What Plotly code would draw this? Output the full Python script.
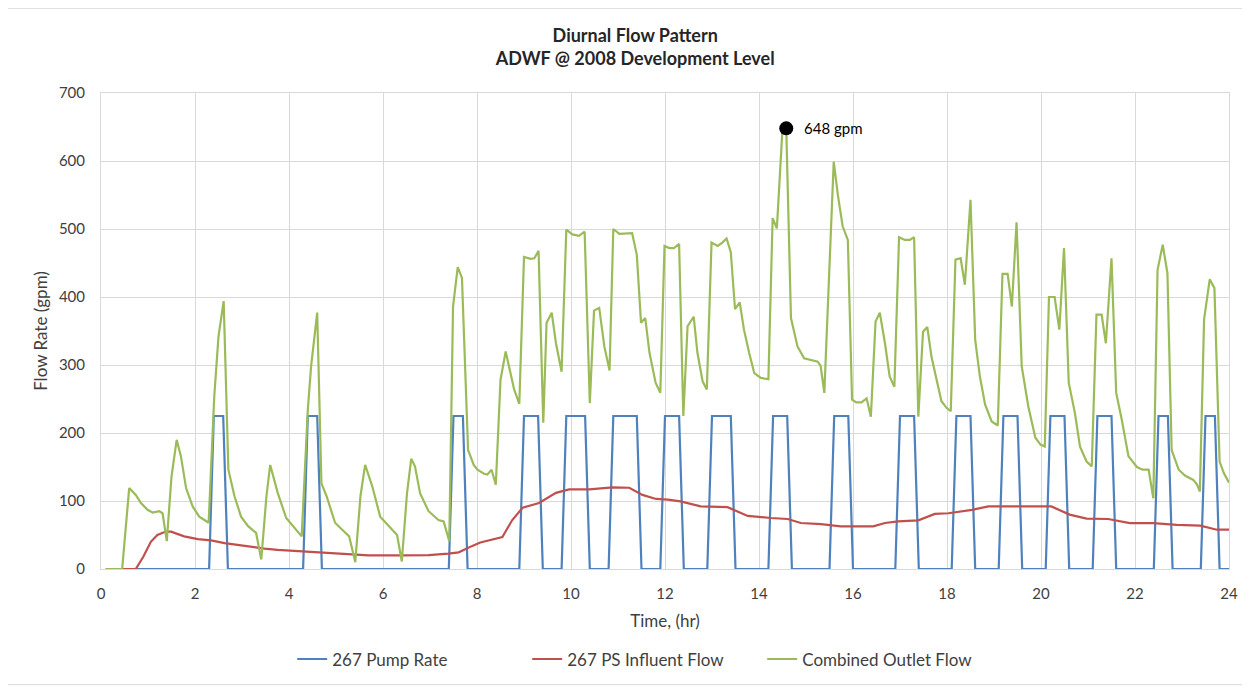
import plotly.graph_objects as go

# hours / gpm breakpoints
pump_time = [0.1, 2.3, 2.4, 2.6, 2.7, 4.3, 4.4, 4.6, 4.7, 7.4, 7.5, 7.7, 7.8,
             8.9, 9.0, 9.3, 9.4, 9.8, 9.9, 10.3, 10.4, 10.8, 10.9, 11.4, 11.5,
             11.9, 12.0, 12.3, 12.4, 12.9, 13.0, 13.4, 13.5, 14.2, 14.3, 14.6, 14.7,
             15.5, 15.6, 15.9, 16.0, 16.9, 17.0, 17.3, 17.4, 18.1, 18.2, 18.5, 18.6,
             19.1, 19.2, 19.5, 19.6, 20.1, 20.2, 20.5, 20.6, 21.1, 21.2, 21.5, 21.6,
             22.4, 22.5, 22.7, 22.8, 23.4, 23.5, 23.7, 23.8, 24.0]
pump_rate = [0, 0, 225, 225, 0, 0, 225, 225, 0, 0, 225, 225, 0,
             0, 225, 225, 0, 0, 225, 225, 0, 0, 225, 225, 0,
             0, 225, 225, 0, 0, 225, 225, 0, 0, 225, 225, 0,
             0, 225, 225, 0, 0, 225, 225, 0, 0, 225, 225, 0,
             0, 225, 225, 0, 0, 225, 225, 0, 0, 225, 225, 0,
             0, 225, 225, 0, 0, 225, 225, 0, 0]

influent_time = [0.45, 0.74, 0.9, 1.06, 1.2, 1.38, 1.49, 1.77, 2.06, 2.34, 2.63, 2.91,
                 3.19, 3.48, 3.76, 4.01, 4.62, 5.05, 5.69, 6.4, 6.97, 7.39, 7.61, 7.9,
                 8.07, 8.54, 8.75, 8.97, 9.32, 9.68, 9.96, 10.39, 10.88, 11.24, 11.52,
                 11.81, 12.06, 12.33, 12.76, 13.33, 13.76, 14.25, 14.61, 14.89, 15.32,
                 15.74, 16.43, 16.68, 16.96, 17.39, 17.74, 18.03, 18.53, 18.88, 20.22,
                 20.61, 20.97, 21.43, 21.89, 22.39, 22.89, 23.39, 23.74, 24.0]
influent_flow = [0, 0, 18, 40, 50, 55, 55, 48, 44, 42, 38, 35,
                 32, 30, 28, 27, 24.5, 22, 20, 20, 20.5, 22.5, 24.5, 34,
                 39, 47, 72, 90, 97, 112, 117, 117, 120, 119.5, 109,
                 103, 102, 99.5, 92, 91, 78, 75, 73.5, 67.6, 66,
                 62.6, 62.6, 67.6, 70, 71.5, 81, 82, 87, 92, 92,
                 80, 74, 73.5, 67.6, 67.6, 65, 63.7, 57.8, 57.8]

outlet_time = [0.1, 0.45, 0.6, 0.74, 0.85, 0.99, 1.1, 1.24, 1.31, 1.4, 1.5, 1.61, 1.7,
               1.81, 1.95, 2.09, 2.2, 2.29, 2.41, 2.5, 2.61, 2.71, 2.84, 2.98, 3.13,
               3.3, 3.41, 3.52, 3.6, 3.76, 3.94, 4.06, 4.27, 4.4, 4.47, 4.6, 4.69,
               4.8, 4.98, 5.16, 5.28, 5.41, 5.52, 5.62, 5.77, 5.94, 6.12, 6.3, 6.4,
               6.51, 6.6, 6.68, 6.79, 6.97, 7.18, 7.29, 7.41, 7.49, 7.59, 7.68, 7.81,
               7.93, 8.01, 8.15, 8.22, 8.31, 8.4, 8.5, 8.61, 8.69, 8.79, 8.9, 9.0,
               9.14, 9.22, 9.31, 9.41, 9.48, 9.59, 9.68, 9.8, 9.9, 10.03, 10.17, 10.29,
               10.4, 10.49, 10.6, 10.71, 10.82, 10.9, 11.03, 11.17, 11.3, 11.4, 11.49,
               11.58, 11.67, 11.8, 11.9, 11.99, 12.09, 12.19, 12.3, 12.39, 12.48, 12.61,
               12.69, 12.8, 12.89, 12.99, 13.12, 13.22, 13.31, 13.4, 13.49, 13.59, 13.68,
               13.79, 13.9, 14.04, 14.2, 14.29, 14.38, 14.5, 14.58, 14.68, 14.82, 14.96,
               15.11, 15.25, 15.31, 15.39, 15.59, 15.68, 15.78, 15.89, 15.98, 16.07,
               16.18, 16.29, 16.38, 16.48, 16.57, 16.68, 16.78, 16.88, 16.98, 17.1,
               17.21, 17.3, 17.39, 17.49, 17.58, 17.67, 17.78, 17.88, 17.99, 18.08,
               18.18, 18.29, 18.38, 18.5, 18.6, 18.7, 18.81, 18.95, 19.08, 19.18, 19.29,
               19.38, 19.48, 19.59, 19.73, 19.88, 19.99, 20.08, 20.17, 20.29, 20.39,
               20.49, 20.59, 20.72, 20.83, 20.97, 21.08, 21.18, 21.29, 21.38, 21.5,
               21.6, 21.72, 21.86, 22.04, 22.16, 22.29, 22.39, 22.48, 22.59, 22.69,
               22.78, 22.93, 23.07, 23.24, 23.32, 23.38, 23.47, 23.59, 23.69, 23.8,
               23.89, 24.0]
outlet_flow = [0, 0, 119, 109, 97, 87, 83, 85, 82, 41, 136, 190, 166,
               119, 92, 77, 72, 68, 254, 342, 394, 146, 107, 77, 63,
               53, 14, 107, 153, 112, 75, 65, 48, 234, 298, 377, 126,
               107, 68, 56, 48, 10, 107, 153, 122, 77, 63, 50, 11,
               111, 162, 151, 111, 85, 72, 70, 41, 386, 444, 428, 175,
               153, 146, 140, 139, 146, 124, 278, 320, 293, 264, 243, 459,
               456, 457, 468, 215, 362, 377, 332, 290, 499, 492, 490, 496,
               244, 380, 384, 327, 292, 500, 493, 493, 494, 462, 362,
               369, 318, 274, 259, 475, 472, 472, 478, 225, 357, 371,
               318, 276, 264, 480, 475, 480, 486, 466, 382, 392, 352,
               318, 288, 281, 279, 516, 501, 648, 648, 369, 327, 310,
               307, 305, 299, 259, 599, 549, 504, 484, 249, 245,
               245, 251, 224, 364, 377, 332, 283, 268, 488, 484,
               484, 488, 224, 349, 356, 312, 278, 247, 237, 232,
               455, 457, 418, 543, 337, 283, 242, 217, 211, 434, 434,
               386, 510, 298, 239, 193, 183, 180, 400, 400, 352,
               472, 274, 230, 180, 158, 151, 374, 374, 332, 457,
               259, 219, 166, 150, 146, 146, 104, 440, 477, 435,
               175, 146, 137, 131, 124, 114, 367, 426, 413, 158,
               141, 127]

peak_time = [14.58]
peak_flow = [648]
peak_label = ["648 gpm"]

font_name = "Lato"
text_grey = "#404040"

fig = go.Figure()

fig.add_trace(go.Scatter(x=pump_time, y=pump_rate, mode="lines", name="267 Pump Rate",
                         line=dict(color="#4f81bd", width=2.2)))
fig.add_trace(go.Scatter(x=influent_time, y=influent_flow, mode="lines", name="267 PS Influent Flow",
                         line=dict(color="#c0504d", width=2.2)))
fig.add_trace(go.Scatter(x=outlet_time, y=outlet_flow, mode="lines", name="Combined Outlet Flow",
                         line=dict(color="#9bbb59", width=2.2)))

# peak marker
fig.add_trace(go.Scatter(x=peak_time, y=peak_flow, mode="markers", showlegend=False,
                         marker=dict(color="black", size=14)))
# peak label, nudged right of the dot
fig.add_annotation(x=peak_time[0], y=peak_flow[0], text=peak_label[0], showarrow=False,
                   xanchor="left", xshift=16,
                   font=dict(family=font_name, size=15, color="black"))

# page body adds an 8px margin, so the figure is 8px smaller than the window
fig.update_layout(
    width=1242,
    height=681,
    paper_bgcolor="white",
    plot_bgcolor="white",
    font=dict(family=font_name, size=14, color=text_grey),
    title=dict(
        text="<b>Diurnal Flow Pattern<br>ADWF @ 2008 Development Level</b>",
        x=0.505, xanchor="center", y=0.95, yanchor="top",
        font=dict(family=font_name, size=18, color="#262626"),
    ),
    margin=dict(l=93, r=15, t=85, b=112),
    legend=dict(orientation="h", x=0.482, xanchor="center", y=-0.19, yanchor="middle",
                font=dict(family=font_name, size=17, color=text_grey),
                itemwidth=30, entrywidth=190, entrywidthmode="pixels"),
    showlegend=True,
)

fig.update_xaxes(
    range=[0, 24], dtick=2, tick0=0,
    showgrid=True, gridcolor="#d9d9d9", gridwidth=1,
    zeroline=False, showline=True, linecolor="#d9d9d9", mirror=True,
    ticks="", ticklabelstandoff=11,
    tickfont=dict(size=15, color=text_grey),
    title=dict(text="Time, (hr)", font=dict(size=17, color=text_grey), standoff=14),
)
fig.update_yaxes(
    range=[0, 700], dtick=100,
    showgrid=True, gridcolor="#d9d9d9", gridwidth=1,
    zeroline=False, showline=True, linecolor="#d9d9d9", mirror=True,
    ticks="", ticklabelstandoff=12,
    tickfont=dict(size=15, color=text_grey),
    title=dict(text="Flow Rate (gpm)", font=dict(size=17, color=text_grey), standoff=6),
)

# chart area border
fig.add_shape(type="rect", xref="paper", yref="paper",
              x0=-0.0875, x1=1.0165, y0=-0.243, y1=1.178,
              line=dict(color="#d9d9d9", width=1), layer="below")

fig.write_html("out.html")
